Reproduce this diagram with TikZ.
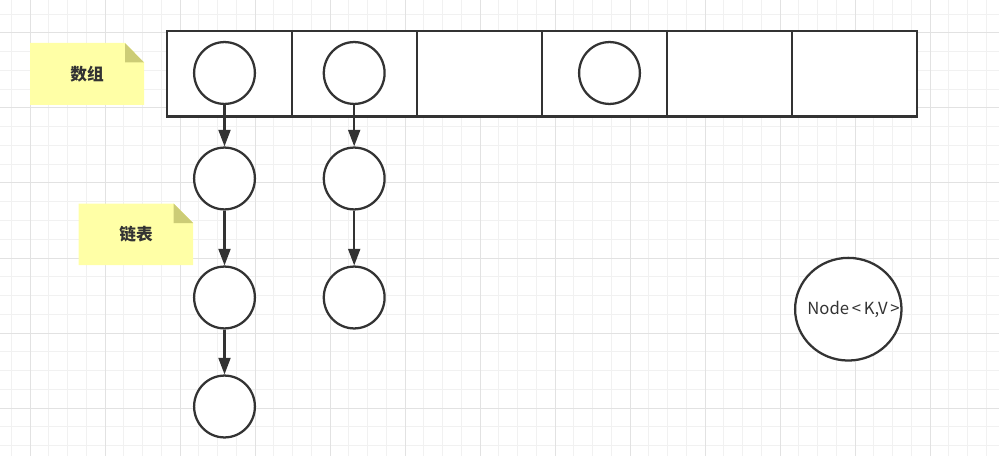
\documentclass[tikz,border=0pt]{standalone}
\usepackage{fontspec}
\newfontfamily\cjk{Noto Sans CJK SC}
\usetikzlibrary{arrows.meta}
\usetikzlibrary{shapes.geometric}

\definecolor{inkgray}{RGB}{51,51,51}
\definecolor{notebg}{RGB}{255,255,166}
\definecolor{notecorner}{RGB}{204,204,118}
\definecolor{gridmajor}{RGB}{226,226,226}
\definecolor{gridminor}{RGB}{241,241,241}

\tikzset{
  minorgrid/.style={color=gridminor, line width=0.75pt},
  majorgrid/.style={color=gridmajor, line width=0.75pt},
  cellbox/.style={draw=inkgray, fill=white, line width=2pt, inner sep=0pt,
    minimum width=93.75pt, minimum height=64.1pt},
  ball/.style={ellipse, draw=inkgray, fill=white, line width=1.7pt, inner sep=0pt,
    minimum width=45.6pt, minimum height=46.4pt},
  bigball/.style={ball, minimum width=79.8pt, minimum height=77pt},
  link/.style={draw=inkgray, line width=1.6pt, -{Triangle[length=12.5pt,width=9pt]}},
  notefill/.style={fill=notebg},
  notefold/.style={fill=notecorner},
  notetext/.style={font=\cjk\bfseries\fontsize{12.5pt}{14pt}\selectfont, text=inkgray},
  kvtext/.style={font=\cjk\fontsize{12.5pt}{15pt}\selectfont, text=inkgray}
}

\begin{document}
\begin{tikzpicture}[x=0.75pt,y=0.75pt,yscale=-1,xscale=1]
\path[use as bounding box] (0,0) rectangle (999,456);

%Grid
\foreach \i in {0,...,52} \draw[minorgrid] (11.25+18.75*\i,0) -- (11.25+18.75*\i,456);
\foreach \j in {0,...,23} \draw[minorgrid] (0,14.25+18.75*\j) -- (999,14.25+18.75*\j);
\foreach \i in {0,...,12} \draw[majorgrid] (30+75*\i,0) -- (30+75*\i,456);
\foreach \j in {0,...,5} \draw[majorgrid] (0,33+75*\j) -- (999,33+75*\j);

%Array cells
\foreach \i in {1,...,6} \node[cellbox] (cell\i) at (104.5+125*\i,73.75) {};

%Entries
\node[ball] (a0) at (224.5,73) {};
\node[ball] (a1) at (224.5,178.5) {};
\node[ball] (a2) at (224.5,297.5) {};
\node[ball] (a3) at (224.5,406.5) {};
\node[ball] (b0) at (354.2,73) {};
\node[ball] (b1) at (354.2,178.5) {};
\node[ball] (b2) at (354.2,297.5) {};
\node[ball] (d0) at (609.5,73) {};

%Links
\draw[link] (a0) -- (a1);
\draw[link] (a1) -- (a2);
\draw[link] (a2) -- (a3);
\draw[link] (b0) -- (b1);
\draw[link] (b1) -- (b2);

%Node<K,V>
\node[bigball] (kv) at (848.3,309.2) {};
\node[kvtext] (kvlabel) at (853.5,309) {Node\,<\,K,V\,>};

%Note: array
\fill[notefill] (30,43) -- (125,43) -- (144,62.5) -- (144,105) -- (30,105) -- cycle;
\fill[notefold] (125,43) -- (125,62.5) -- (144,62.5) -- cycle;
\node[notetext] (arraynote) at (87,74) {数组};

%Note: list
\fill[notefill] (78.5,203.5) -- (173.5,203.5) -- (193,223) -- (193,265) -- (78.5,265) -- cycle;
\fill[notefold] (173.5,203.5) -- (173.5,223) -- (193,223) -- cycle;
\node[notetext] (listnote) at (136,234) {链表};

\end{tikzpicture}
\end{document}
